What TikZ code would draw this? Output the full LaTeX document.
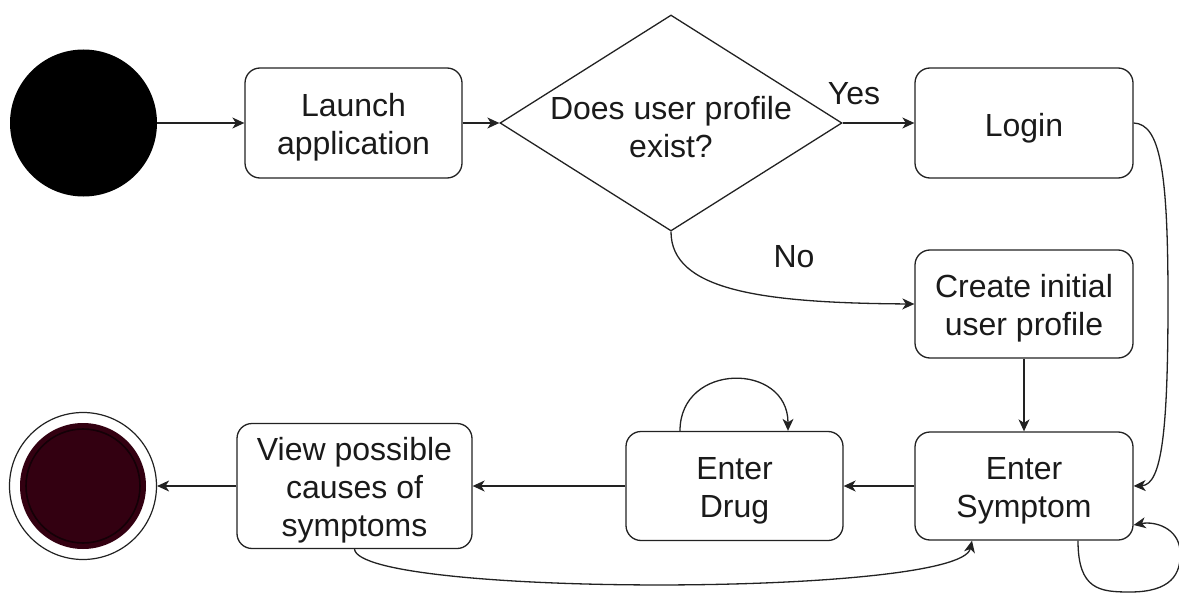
\documentclass[tikz,border=0pt]{standalone}
\usepackage{fontspec}
\setmainfont{Liberation Sans}
\usetikzlibrary{shapes.geometric,arrows.meta}
\definecolor{endfill}{HTML}{330011}
\definecolor{txt}{HTML}{1A1A1A}
\definecolor{ln}{HTML}{222222}
\newcommand\tup{\rule{0pt}{31pt}}
\begin{document}
\begin{tikzpicture}[x=1pt,y=-1pt,
  font=\fontsize{32}{38}\selectfont,
  box/.style={draw=ln, line width=1.3pt, rounded corners=15pt, align=center, text=txt,
    inner sep=0pt, minimum width=217pt, minimum height=110pt},
  arr/.style={draw=ln, line width=1.3pt, -{Stealth[length=12pt,width=11pt,inset=3.5pt]}},
  lbl/.style={text=txt, inner sep=0pt}]
\useasboundingbox (0,0) rectangle (1179,594);

% nodes
\node[circle, fill=black, minimum size=147pt, inner sep=0pt] (start) at (83.5,123) {};
\node[box] (launch) at (353.5,123) {\tup Launch\\application};
\node[diamond, draw=ln, line width=1.3pt, minimum width=342pt, minimum height=216pt, inner sep=0pt] (dec) at (671,123) {};
\node[lbl, align=center] (dect) at (dec.center) {\tup Does user profile\\exist?};
\node[box, minimum width=218pt] (login) at (1024,123) {\rule{0pt}{34pt}Login};
\node[box, minimum width=218pt, minimum height=108pt] (create) at (1024,304) {\tup Create initial\\user profile};
\node[box, minimum width=218pt, minimum height=108pt] (symptom) at (1024,486) {\tup Enter\\Symptom};
\node[box, minimum height=109pt] (drug) at (734.5,486) {\tup Enter\\Drug};
\node[box, minimum width=235pt, minimum height=125pt] (view) at (354.5,486) {\tup View possible\\causes of\\symptoms};
\node[circle, draw=ln, line width=1.2pt, fill=white, minimum size=147pt, inner sep=0pt] (end) at (83,486) {};
\fill[endfill] (end.center) circle[radius=63pt];
\draw[black!60!endfill, line width=1.6pt] (end.center) circle[radius=57pt];

\node[lbl] (yes) at (854,94) {Yes};
\node[lbl] (no) at (794,257) {No};

% connectors
\draw[arr] (start) -- (launch);
\draw[arr] (launch) -- (dec.west);
\draw[arr] (dec.east) -- (login.west);
\draw[arr] (dec.south) .. controls (671,290) and (760,303) .. (create.west);
\draw[arr] (login.east) .. controls (1160,124) and (1168,170) .. (1168,300)
   .. controls (1168,430) and (1162,485) .. (symptom.east);
\draw[arr] (create) -- (symptom);
\draw[arr] (symptom) -- (drug);
\draw[arr] (drug) -- (view);
\draw[arr] (view) -- (end);
\draw[arr] ([xshift=-54.5pt]drug.north) .. controls (680,362) and (788,362) .. ([xshift=53.5pt]drug.north);
\draw[arr] ([xshift=54pt]symptom.south) .. controls (1078,590) and (1100,592) .. (1130,592)
   .. controls (1170,592) and (1182,575) .. (1180,550)
   .. controls (1178,528) and (1155,521) .. ([yshift=-39pt]symptom.east);
\draw[arr] (view.south) .. controls (360,597) and (960,597) .. ([xshift=-52pt]symptom.south);
\end{tikzpicture}
\end{document}
